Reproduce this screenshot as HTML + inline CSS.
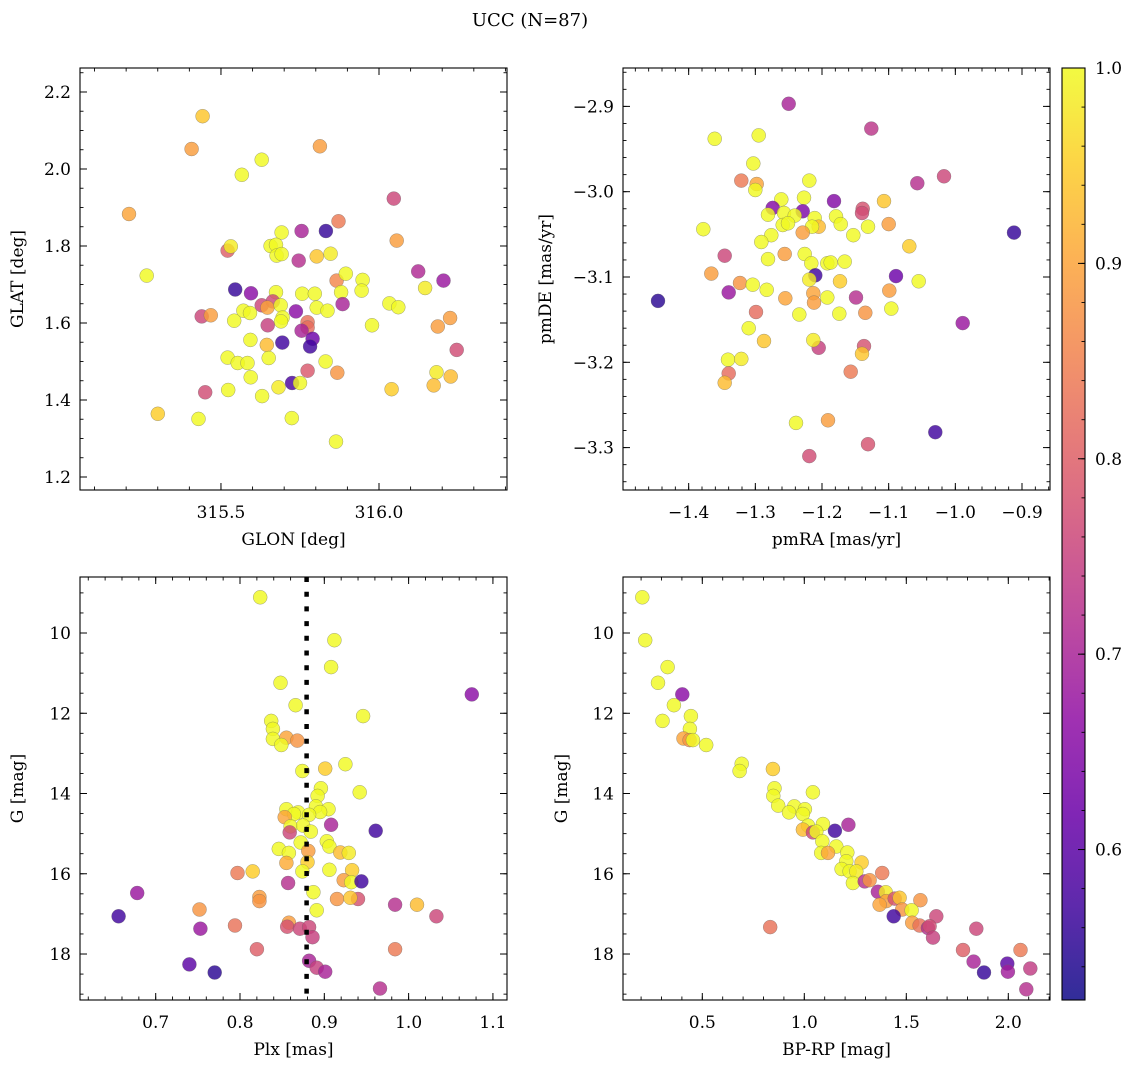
<!DOCTYPE html>
<html><head><meta charset="utf-8">
<style>
html,body{margin:0;padding:0;background:#fff;}
svg{display:block;font-family:"DejaVu Serif","Liberation Serif",serif;}
</style></head>
<body>
<svg id="fig" width="1136" height="1067" viewBox="0 0 1136 1067" xmlns="http://www.w3.org/2000/svg">
<text x="530" y="26" font-size="18" text-anchor="middle">UCC (N=87)</text>
</svg>
<script>
// ---------- data ----------
const glon = [315.442,315.407,315.813,315.629,315.566,315.209,316.047,315.872,315.692,315.755,315.832,316.056,315.521,315.531,315.657,315.674,315.676,315.692,315.746,315.803,315.847,315.265,316.124,316.204,316.146,315.866,315.895,315.948,315.945,315.880,315.545,315.595,315.674,315.757,315.797,315.885,315.629,315.664,315.647,315.689,315.737,315.803,315.837,316.033,316.061,315.571,315.592,315.439,315.468,315.542,315.695,315.690,315.648,315.774,315.774,315.755,315.790,315.782,315.978,316.225,316.186,316.246,315.593,315.645,315.694,315.521,315.651,315.553,315.584,315.831,315.594,315.774,315.868,316.182,316.227,316.173,316.040,315.725,315.750,315.682,315.523,315.630,315.450,315.300,315.429,315.724,315.864];
const glat = [2.137,2.052,2.059,2.024,1.985,1.883,1.923,1.864,1.835,1.839,1.839,1.814,1.788,1.799,1.800,1.803,1.775,1.779,1.762,1.773,1.780,1.723,1.734,1.710,1.691,1.710,1.728,1.712,1.684,1.680,1.687,1.677,1.680,1.676,1.676,1.649,1.646,1.656,1.640,1.646,1.630,1.640,1.632,1.651,1.641,1.632,1.626,1.617,1.620,1.606,1.614,1.604,1.594,1.602,1.588,1.580,1.559,1.539,1.594,1.613,1.591,1.530,1.556,1.543,1.549,1.510,1.509,1.496,1.496,1.500,1.459,1.476,1.471,1.472,1.461,1.438,1.428,1.444,1.444,1.433,1.426,1.410,1.420,1.364,1.351,1.353,1.292];
const probA = [0.94,0.89,0.89,1.0,1.0,0.9,0.76,0.84,1.0,0.7,0.56,0.89,0.8,0.985,1.0,1.0,1.0,1.0,0.72,0.94,0.985,1.0,0.71,0.68,0.985,0.86,1.0,1.0,1.0,1.0,0.56,0.66,1.0,1.0,1.0,0.7,0.76,0.76,0.9,1.0,0.66,1.0,1.0,1.0,1.0,1.0,1.0,0.76,0.89,1.0,1.0,1.0,0.75,0.83,0.82,0.7,0.62,0.57,1.0,0.89,0.89,0.77,1.0,0.93,0.57,1.0,1.0,1.0,1.0,1.0,1.0,0.79,0.88,0.985,0.93,0.93,0.95,0.58,1.0,0.985,1.0,1.0,0.77,0.95,1.0,1.0,1.0];

const pmra = [-1.250,-1.126,-1.361,-1.295,-1.303,-1.321,-1.298,-1.300,-1.219,-1.057,-1.017,-1.227,-1.182,-1.107,-1.261,-1.274,-1.229,-1.139,-1.140,-1.281,-1.257,-1.241,-1.211,-1.179,-1.172,-1.131,-1.100,-1.259,-1.251,-1.205,-1.215,-1.229,-1.378,-0.912,-1.276,-1.291,-1.153,-1.069,-1.346,-1.256,-1.226,-1.281,-1.216,-1.192,-1.187,-1.166,-1.366,-1.210,-1.089,-1.219,-1.173,-1.055,-1.323,-1.304,-1.283,-1.340,-1.446,-1.213,-1.212,-1.255,-1.192,-1.149,-1.099,-1.096,-1.299,-1.234,-1.174,-1.135,-0.989,-1.310,-1.287,-1.205,-1.213,-1.137,-1.140,-1.341,-1.321,-1.340,-1.346,-1.157,-1.239,-1.191,-1.030,-1.131,-1.219];
const pmde = [-2.897,-2.926,-2.938,-2.934,-2.967,-2.987,-2.991,-2.998,-2.987,-2.990,-2.982,-3.007,-3.011,-3.011,-3.009,-3.019,-3.023,-3.020,-3.025,-3.027,-3.025,-3.028,-3.031,-3.029,-3.038,-3.041,-3.038,-3.039,-3.037,-3.041,-3.041,-3.048,-3.044,-3.048,-3.051,-3.059,-3.051,-3.064,-3.075,-3.073,-3.073,-3.079,-3.084,-3.084,-3.083,-3.082,-3.096,-3.098,-3.099,-3.103,-3.105,-3.105,-3.107,-3.109,-3.115,-3.118,-3.128,-3.119,-3.130,-3.125,-3.124,-3.124,-3.116,-3.137,-3.141,-3.144,-3.143,-3.142,-3.154,-3.160,-3.175,-3.183,-3.174,-3.181,-3.190,-3.197,-3.196,-3.213,-3.224,-3.211,-3.271,-3.268,-3.282,-3.296,-3.310];
const probB = [0.7,0.73,1.0,1.0,1.0,0.84,0.9,1.0,1.0,0.72,0.76,1.0,0.65,0.94,1.0,0.65,0.64,0.78,0.77,1.0,1.0,1.0,1.0,1.0,1.0,1.0,0.89,1.0,1.0,0.93,1.0,0.89,1.0,0.56,1.0,1.0,1.0,0.95,0.76,0.89,1.0,1.0,1.0,1.0,1.0,1.0,0.89,0.57,0.62,0.985,0.95,1.0,0.88,1.0,1.0,0.68,0.55,0.9,0.89,0.9,1.0,0.72,0.89,1.0,0.82,1.0,1.0,0.88,0.68,1.0,0.94,0.75,0.985,0.78,0.94,1.0,0.985,0.82,0.93,0.84,1.0,0.89,0.57,0.78,0.77];

const plx = [0.824,0.912,0.908,0.848,1.075,0.866,0.946,0.837,0.839,0.855,0.868,0.839,0.849,0.925,0.901,0.874,0.896,0.942,0.892,0.890,0.905,0.895,0.855,0.869,0.864,0.853,0.882,0.908,0.961,0.860,0.875,0.859,0.884,0.872,0.903,0.906,0.846,0.858,0.881,0.919,0.929,0.855,0.880,0.874,0.906,0.933,0.815,0.797,0.857,0.923,0.932,0.944,0.887,0.678,0.823,0.823,0.915,0.940,0.931,0.984,1.010,0.752,0.891,0.656,1.033,0.753,0.794,0.858,0.856,0.871,0.882,0.886,0.820,0.984,0.882,0.740,0.770,0.891,0.901,0.966];
const gmagC = [9.11,10.18,10.85,11.24,11.53,11.80,12.07,12.19,12.39,12.61,12.68,12.64,12.79,13.27,13.38,13.44,13.87,13.97,14.06,14.32,14.39,14.46,14.39,14.47,14.51,14.59,14.53,14.78,14.93,14.82,14.80,14.97,14.95,15.22,15.19,15.32,15.38,15.48,15.43,15.47,15.48,15.73,15.71,15.94,15.90,15.91,15.94,15.98,16.23,16.16,16.21,16.19,16.46,16.48,16.58,16.68,16.63,16.63,16.60,16.77,16.77,16.89,16.91,17.06,17.06,17.37,17.29,17.22,17.32,17.37,17.33,17.58,17.88,17.88,18.17,18.26,18.46,18.34,18.44,18.86];
const probC = [1.0,1.0,1.0,1.0,0.66,1.0,1.0,1.0,1.0,0.9,0.88,1.0,1.0,1.0,0.95,1.0,1.0,1.0,1.0,1.0,1.0,1.0,1.0,1.0,1.0,0.9,1.0,0.7,0.57,1.0,1.0,0.76,1.0,1.0,1.0,1.0,1.0,1.0,0.89,0.93,0.985,0.91,0.95,1.0,1.0,0.95,0.95,0.84,0.72,0.89,1.0,0.57,1.0,0.68,0.89,0.88,0.88,0.78,0.94,0.72,0.93,0.88,1.0,0.57,0.76,0.68,0.83,0.89,0.78,0.76,0.76,0.75,0.8,0.84,0.7,0.6,0.55,0.75,0.7,0.72];
const plxLine = [0.879];

const bprp = [0.206,0.220,0.330,0.283,0.402,0.361,0.444,0.305,0.439,0.408,0.438,0.454,0.519,0.693,0.683,0.846,1.042,0.854,0.848,0.872,0.951,1.003,0.925,0.993,1.216,1.150,1.091,1.018,0.993,1.042,1.059,1.088,1.157,1.083,1.116,1.211,1.206,1.281,1.183,1.222,1.255,1.382,1.238,1.296,1.320,1.361,1.399,1.402,1.369,1.443,1.467,1.569,1.480,1.526,1.438,1.647,0.833,1.529,1.565,1.606,1.614,1.631,1.843,1.778,2.060,1.830,1.881,1.995,1.998,2.108,2.088];
const gmagD = [9.11,10.18,10.85,11.24,11.53,11.80,12.07,12.19,12.39,12.63,12.67,12.67,12.79,13.26,13.44,13.39,13.97,13.87,14.06,14.30,14.32,14.39,14.47,14.51,14.78,14.93,14.76,14.80,14.90,14.97,14.95,15.19,15.32,15.48,15.48,15.47,15.69,15.72,15.88,15.94,15.94,15.98,16.23,16.19,16.16,16.45,16.46,16.68,16.77,16.62,16.60,16.66,16.89,16.91,17.06,17.06,17.33,17.22,17.29,17.35,17.31,17.59,17.37,17.90,17.90,18.19,18.46,18.24,18.44,18.36,18.88];
const probD = [1.0,1.0,1.0,1.0,0.66,1.0,1.0,1.0,1.0,0.9,0.88,1.0,1.0,1.0,1.0,0.95,1.0,1.0,1.0,1.0,1.0,1.0,1.0,1.0,0.7,0.57,1.0,1.0,0.93,0.76,1.0,1.0,1.0,1.0,0.9,1.0,1.0,0.95,1.0,1.0,0.985,0.84,1.0,0.72,0.88,0.7,0.985,0.89,0.9,0.78,0.94,0.88,0.88,1.0,0.57,0.76,0.83,0.89,0.83,0.72,0.77,0.75,0.76,0.8,0.84,0.7,0.56,0.6,0.69,0.74,0.72];

// tick labels
const ticksGlon = [315.5, 316.0];
const ticksGlat = [1.2, 1.4, 1.6, 1.8, 2.0, 2.2];
const ticksPmra = [-1.4, -1.3, -1.2, -1.1, -1.0, -0.9];
const ticksPmde = [-3.3, -3.2, -3.1, -3.0, -2.9];
const ticksPlx = [0.7, 0.8, 0.9, 1.0, 1.1];
const ticksG = [10, 12, 14, 16, 18];
const ticksBprp = [0.5, 1.0, 1.5, 2.0];
const ticksCbar = [0.6, 0.7, 0.8, 0.9, 1.0];
const cbarRange = [0.523, 1.0];

// ---------- helpers ----------
const NS = "http://www.w3.org/2000/svg";
const svg = document.getElementById('fig');
function mk(tag, attrs, parent){
  const e = document.createElementNS(NS, tag);
  for (const k in attrs) e.setAttribute(k, attrs[k]);
  (parent || svg).appendChild(e);
  return e;
}
const plasmaStops = ["#0d0887","#41049d","#6a00a8","#8f0da4","#b12a90","#cc4778","#e16462","#f2844b","#fca636","#fcce25","#f0f921"];
function hex2rgb(h){return [parseInt(h.substr(1,2),16),parseInt(h.substr(3,2),16),parseInt(h.substr(5,2),16)];}
function plasma(t){
  t = Math.max(0, Math.min(1, t));
  const s = t * 10, i = Math.min(9, Math.floor(s)), f = s - i;
  const a = hex2rgb(plasmaStops[i]), b = hex2rgb(plasmaStops[i+1]);
  return "rgb(" + a.map((v,k)=>Math.round(v + (b[k]-v)*f)).join(",") + ")";
}
function colorOf(p){ return plasma((p - cbarRange[0]) / (cbarRange[1] - cbarRange[0])); }
function fmt(v, d){ return (v < 0 ? "\u2212" : "") + Math.abs(v).toFixed(d); }

function panel(cfg){
  const g = mk('g', {});
  
  
  const L = cfg.left, T = cfg.top, W = cfg.w, H = cfg.h;
  const sx = v => L + (v - cfg.x0) / (cfg.x1 - cfg.x0) * W;
  const sy = v => T + (v - cfg.y0) / (cfg.y1 - cfg.y0) * H;
  const clipId = 'clip-' + cfg.name;
  const cp = mk('clipPath', {id: clipId}, g);
  mk('rect', {x: L, y: T, width: W, height: H}, cp);
  const pts = mk('g', {'clip-path': 'url(#' + clipId + ')'}, g);
  
  
  const n = Math.min(cfg.xs.length, cfg.ys.length, cfg.cs.length);
  for (let i = 0; i < n; i++){
    const c = mk('circle', {cx: sx(cfg.xs[i]).toFixed(1), cy: sy(cfg.ys[i]).toFixed(1), r: 7,
      fill: colorOf(cfg.cs[i]), 'fill-opacity': 0.82, stroke: '#666', 'stroke-width': 0.5, 'stroke-opacity': 0.6}, pts);
    
    
  }
  if (cfg.vline){
    const ln = mk('line', {x1: sx(cfg.vline[0]), x2: sx(cfg.vline[0]), y1: T, y2: T + H, stroke: '#000', 'stroke-width': 4.5, 'stroke-dasharray': '5 9.7'}, g);
    
    
  }
  const eps = 1e-9;
  const xlo = Math.min(cfg.x0, cfg.x1), xhi = Math.max(cfg.x0, cfg.x1);
  for (let v = Math.ceil(xlo / cfg.xm - eps) * cfg.xm; v <= xhi + eps; v += cfg.xm){
    const x = sx(v);
    mk('line', {x1: x, x2: x, y1: T + H, y2: T + H - 3.5, stroke: '#000', 'stroke-width': 0.9}, g);
    mk('line', {x1: x, x2: x, y1: T, y2: T + 3.5, stroke: '#000', 'stroke-width': 0.9}, g);
  }
  const ylo = Math.min(cfg.y0, cfg.y1), yhi = Math.max(cfg.y0, cfg.y1);
  for (let v = Math.ceil(ylo / cfg.ym - eps) * cfg.ym; v <= yhi + eps; v += cfg.ym){
    const y = sy(v);
    mk('line', {x1: L, x2: L + 3.5, y1: y, y2: y, stroke: '#000', 'stroke-width': 0.9}, g);
    mk('line', {x1: L + W, x2: L + W - 3.5, y1: y, y2: y, stroke: '#000', 'stroke-width': 0.9}, g);
  }
  cfg.xt.forEach(v => {
    const x = sx(v);
    mk('line', {x1: x, x2: x, y1: T + H, y2: T + H - 7, stroke: '#000', 'stroke-width': 1}, g);
    mk('line', {x1: x, x2: x, y1: T, y2: T + 7, stroke: '#000', 'stroke-width': 1}, g);
    const t = mk('text', {x: x, y: T + H + 28, 'font-size': 17, 'text-anchor': 'middle'}, g);
    
    
    t.textContent = fmt(v, cfg.xd);
  });
  cfg.yt.forEach(v => {
    const y = sy(v);
    mk('line', {x1: L, x2: L + 7, y1: y, y2: y, stroke: '#000', 'stroke-width': 1}, g);
    mk('line', {x1: L + W, x2: L + W - 7, y1: y, y2: y, stroke: '#000', 'stroke-width': 1}, g);
    const t = mk('text', {x: L - 9, y: y + 6, 'font-size': 17, 'text-anchor': 'end'}, g);
    
    
    t.textContent = fmt(v, cfg.yd);
  });
  const fr = mk('rect', {x: L, y: T, width: W, height: H, fill: 'none', stroke: '#000', 'stroke-width': 1.1}, g);
  
  
  const xl = mk('text', {x: L + W / 2, y: T + H + 55, 'font-size': 17, 'text-anchor': 'middle'}, g);
  
  
  xl.textContent = cfg.xlabel;
  const yx = cfg.ylabelX, yy = T + H / 2;
  const yl = mk('text', {x: yx, y: yy, 'font-size': 17, 'text-anchor': 'middle', transform: 'rotate(-90 ' + yx + ' ' + yy + ')'}, g);
  
  
  yl.textContent = cfg.ylabel;
}

panel({name: 'glon-glat-panel', left: 80, top: 68, w: 427, h: 422,
  x0: 315.054, x1: 316.405, y0: 2.2623, y1: 1.1662,
  xs: glon, ys: glat, cs: probA, xt: ticksGlon, yt: ticksGlat, xd: 1, yd: 1, xm: 0.1, ym: 0.05,
  xlabel: 'GLON [deg]', ylabel: 'GLAT [deg]', ylabelX: 23});
panel({name: 'pm-panel', left: 623, top: 68, w: 427, h: 422,
  x0: -1.4985, x1: -0.858, y0: -2.855, y1: -3.3497,
  xs: pmra, ys: pmde, cs: probB, xt: ticksPmra, yt: ticksPmde, xd: 1, yd: 1, xm: 0.02, ym: 0.02,
  xlabel: 'pmRA [mas/yr]', ylabel: 'pmDE [mas/yr]', ylabelX: 551});
panel({name: 'plx-g-panel', left: 80, top: 577, w: 427, h: 423,
  x0: 0.6102, x1: 1.1167, y0: 8.604, y1: 19.146,
  xs: plx, ys: gmagC, cs: probC, xt: ticksPlx, yt: ticksG, xd: 1, yd: 0, xm: 0.02, ym: 0.5,
  xlabel: 'Plx [mas]', ylabel: 'G [mag]', ylabelX: 23, vline: plxLine});
panel({name: 'cmd-panel', left: 623, top: 577, w: 427, h: 423,
  x0: 0.1113, x1: 2.2044, y0: 8.604, y1: 19.146,
  xs: bprp, ys: gmagD, cs: probD, xt: ticksBprp, yt: ticksG, xd: 1, yd: 0, xm: 0.1, ym: 0.5,
  xlabel: 'BP-RP [mag]', ylabel: 'G [mag]', ylabelX: 567});

// ---------- colorbar ----------
(function(){
  const L = 1062, T = 68, W = 23, H = 932;
  const g = mk('g', {});
  
  
  const defs = mk('defs', {}, g);
  const lg = mk('linearGradient', {id: 'plasmaGrad', x1: 0, y1: 1, x2: 0, y2: 0}, defs);
  for (let i = 0; i <= 20; i++){
    mk('stop', {offset: (i / 20).toFixed(3), 'stop-color': plasma(i / 20), 'stop-opacity': 0.85}, lg);
  }
  const r = mk('rect', {x: L, y: T, width: W, height: H, fill: 'url(#plasmaGrad)', stroke: '#000', 'stroke-width': 1.1}, g);
  
  
  const sy = v => T + H - (v - cbarRange[0]) / (cbarRange[1] - cbarRange[0]) * H;
  for (let v = 0.54; v <= 1.0001; v += 0.02){
    const y = sy(v);
    mk('line', {x1: L + W, x2: L + W - 3.5, y1: y, y2: y, stroke: '#000', 'stroke-width': 0.9}, g);
  }
  ticksCbar.forEach(v => {
    const y = sy(v);
    mk('line', {x1: L + W, x2: L + W - 7, y1: y, y2: y, stroke: '#000', 'stroke-width': 1}, g);
    const t = mk('text', {x: L + W + 10, y: y + 6, 'font-size': 17}, g);
    
    
    t.textContent = v.toFixed(1);
  });
})();
</script>
</body></html>
